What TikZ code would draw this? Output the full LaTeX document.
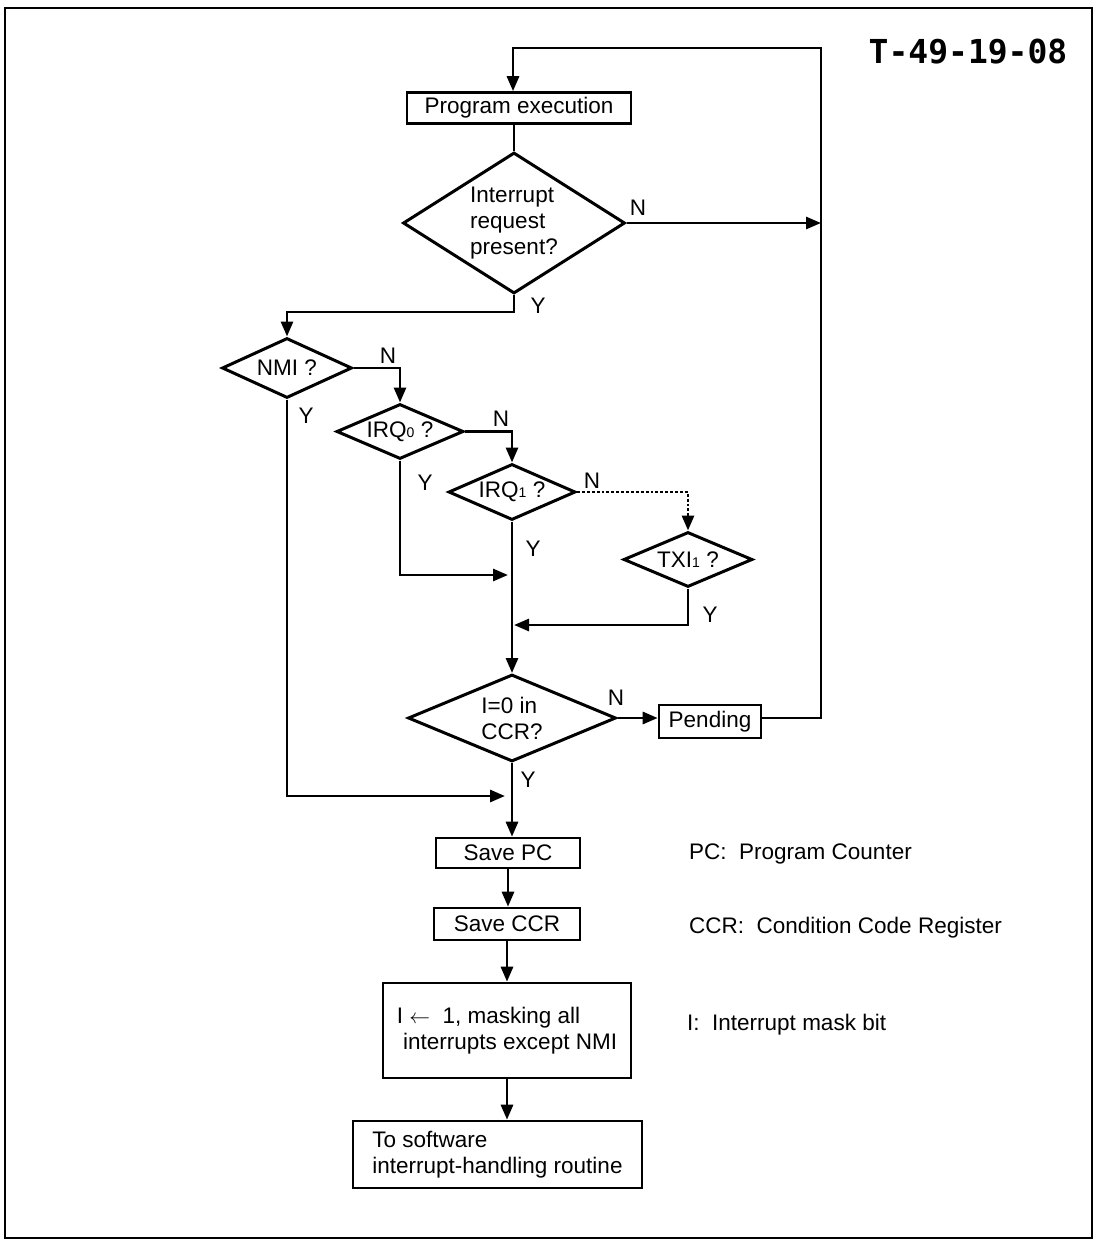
\documentclass[tikz,border=0pt]{standalone}
\usepackage{fontspec}
\setmainfont{Liberation Sans}
\newfontfamily\stampfont{DejaVu Sans Mono}
\usetikzlibrary{shapes.geometric,arrows.meta}
\begin{document}
\begin{tikzpicture}[x=1pt,y=-1pt,
  font=\fontsize{22.5}{26}\selectfont,
  lw/.style={line width=2.9pt},
  arr/.style={-{Triangle[length=15pt,width=12pt]}},
  box/.style={draw,line width=2.6pt,inner sep=0pt},
  dia/.style={draw,diamond,line width=3pt,inner sep=0pt,align=left},
  lbl/.style={inner sep=0pt}]
\useasboundingbox (0,0) rectangle (1099,1241);
\draw[line width=1.8pt] (5,8) rectangle (1092,1238);
\node[lbl] (title) at (968,52) {\stampfont\bfseries\fontsize{33}{33}\selectfont T-49-19-08};

% boxes
\node[box,minimum width=224pt,minimum height=31pt] (prog) at (519,108) {Program execution};
\node[box,minimum width=102pt,minimum height=33pt] (pend) at (710,721.5) {Pending};
\node[box,minimum width=144pt,minimum height=30pt] (savepc) at (508,853) {Save PC};
\node[box,minimum width=146pt,minimum height=32pt] (saveccr) at (507,924) {Save CCR};
\node[box,minimum width=248pt,minimum height=95pt,align=left] (mask) at (507,1030.5) {I $\leftarrow$\ \ 1, masking all\\\ interrupts except NMI};
\node[box,minimum width=289pt,minimum height=67pt,align=left] (sw) at (497.5,1154.5) {To software\\interrupt-handling routine};

% diamonds
\node[dia,minimum width=222pt,minimum height=141pt,aspect=1.57] (d1) at (514,223) {Interrupt\\request\\present?};
\node[dia,minimum width=130pt,minimum height=60pt,aspect=2.17] (nmi) at (287,368) {NMI ?};
\node[dia,minimum width=127pt,minimum height=55pt,aspect=2.3] (irq0) at (400,431.5) {IRQ{\fontsize{14}{14}\selectfont 0} ?};
\node[dia,minimum width=127pt,minimum height=56pt,aspect=2.3] (irq1) at (512,492) {IRQ{\fontsize{14}{14}\selectfont 1} ?};
\node[dia,minimum width=129pt,minimum height=55pt,aspect=2.3] (txi) at (688,559.5) {TXI{\fontsize{14}{14}\selectfont 1} ?};
\node[dia,minimum width=208pt,minimum height=87pt,aspect=2.4] (ccr) at (512,718) {I=0 in\\CCR?};

% free-end coordinates
\coordinate (lt) at (513,48);
\coordinate (rt) at (821,48);
\coordinate (j1) at (505,796);
\coordinate (j2) at (508,575);
\coordinate (j3) at (514,625);

% connectors
\draw[lw,arr] (pend.east |- ccr.east) -| (rt) -- (lt) -- (lt |- prog.north);
\draw[lw] (prog.south -| d1.north) -- (d1.north);
\draw[lw,arr] (d1.east) -- (d1.east -| rt);
\draw[lw,arr] (d1.south) -- ++(0,17) -| (nmi.north);
\draw[lw,arr] (nmi.east) -| (irq0.north);
\draw[lw,arr] (nmi.south) |- (j1);
\draw[lw,arr] (irq0.east) -| (irq1.north);
\draw[lw,arr] (irq0.south) |- (j2);
\draw[lw,arr,dotted] (irq1.east) -| (txi.north);
\draw[lw,arr] (irq1.south) -- (ccr.north);
\draw[lw,arr] (txi.south) |- (j3);
\draw[lw,arr] (ccr.east) -- (ccr.east -| pend.west);
\draw[lw,arr] (ccr.south) -- (ccr.south |- savepc.north);
\draw[lw,arr] (savepc.south) -- (savepc.south |- saveccr.north);
\draw[lw,arr] (saveccr.south) -- (saveccr.south |- mask.north);
\draw[lw,arr] (mask.south) -- (mask.south |- sw.north);

% Y/N labels
\node[lbl] (n1) at (638,208) {N};
\node[lbl] (y1) at (538,306) {Y};
\node[lbl] (n2) at (388,356) {N};
\node[lbl] (y2) at (306,416) {Y};
\node[lbl] (n3) at (501,419) {N};
\node[lbl] (y3) at (425,483) {Y};
\node[lbl] (n4) at (592,481) {N};
\node[lbl] (y4) at (533,549) {Y};
\node[lbl] (y5) at (710,615) {Y};
\node[lbl] (n5) at (616,698) {N};
\node[lbl] (y6) at (528,780) {Y};

% legend
\node[lbl,anchor=west] (lpc) at (689,854) {PC:\ \ Program Counter};
\node[lbl,anchor=west] (lccr) at (689,928) {CCR:\ \ Condition Code Register};
\node[lbl,anchor=west] (li) at (687,1025) {I:\ \ Interrupt mask bit};
\end{tikzpicture}
\end{document}
